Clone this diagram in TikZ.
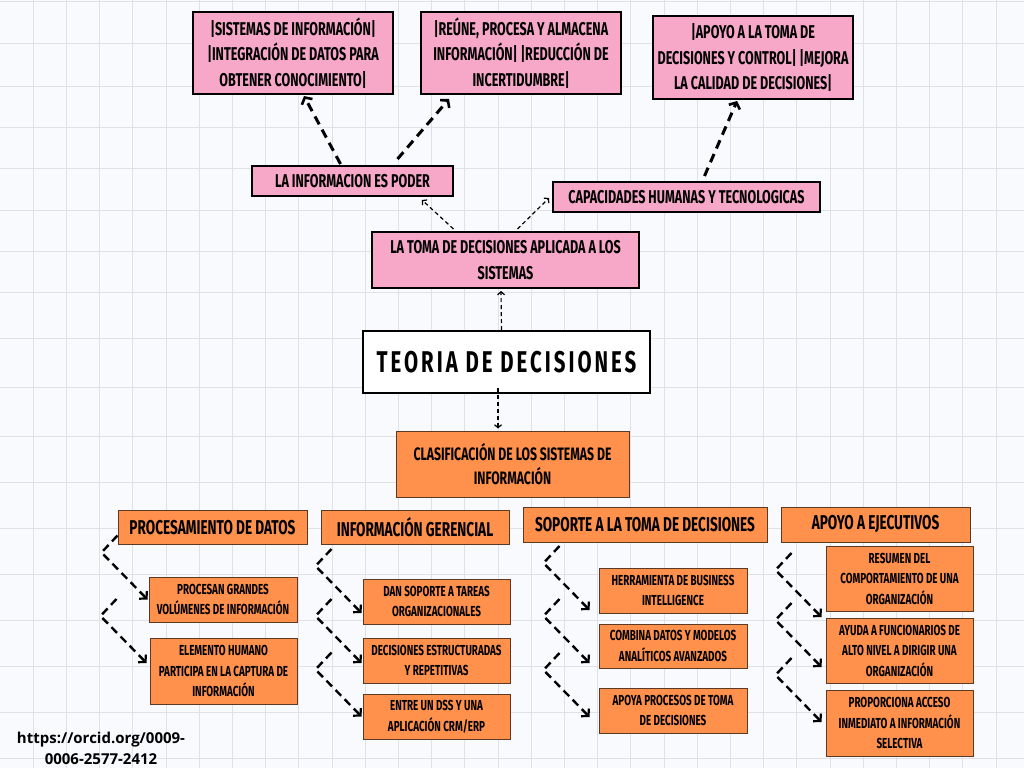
\documentclass[tikz,border=0pt]{standalone}
\usepackage{fontspec}
\setmainfont{Fira Sans}
\newfontfamily\manofont[FakeStretch=0.68]{Fira Sans}
\newfontfamily\orcidfont{Open Sans}
\usepackage{tikz}
\usetikzlibrary{arrows.meta, calc, positioning}
\definecolor{rosa}{HTML}{F7A7C7}
\definecolor{arancio}{HTML}{FF914D}
\definecolor{bordo}{HTML}{5B3A24}
\definecolor{griglia}{HTML}{E0E1E6}
\definecolor{fondo}{HTML}{F9FAFD}

\begin{document}
\begin{tikzpicture}[x=1pt, y=-1pt,
    rosabox/.style={draw=black, line width=2pt, fill=rosa, align=center, inner sep=0pt,
        font=\manofont\bfseries\fontsize{18.5}{25.5}\selectfont},
    titolo/.style={draw=black, line width=2pt, fill=white, inner sep=0pt,
        font=\manofont\bfseries\fontsize{30}{30}\selectfont\addfontfeatures{LetterSpace=10}},
    arbox/.style={draw=bordo, line width=1pt, fill=arancio, align=center, inner sep=0pt,
        font=\manofont\bfseries\fontsize{14.5}{20.5}\selectfont},
    capo/.style={arbox, font=\manofont\bfseries\fontsize{20}{20}\selectfont},
    sottile/.style={line width=1.2pt, dash pattern=on 4pt off 3pt,
        -{Straight Barb[length=3pt, width=7pt, line width=1.2pt]}},
    spessa/.style={line width=3pt, dash pattern=on 9pt off 6pt,
        -{Straight Barb[length=5pt, width=12pt, line width=2.6pt]}},
    zigzag/.style={line width=2.4pt, dash pattern=on 8pt off 5pt,
        -{Straight Barb[length=5pt, width=11pt, line width=2.2pt]}}]
    % Parametri
    \pgfmathsetmacro{\zx}{-30}
    \pgfmathsetmacro{\zy}{-64}
    % Sfondo
    \useasboundingbox (0,0) rectangle (1024,768);
    \fill[fondo] (0,0) rectangle (1024,768);
    \foreach \gx in {33.2,66.4,...,1020}
        \draw[griglia, line width=1pt] (\gx,0) -- (\gx,768);
    \foreach \gy in {2,44,86,127,168,210,251,292,338,387,436,482,528,574,620,666,712,758}
        \draw[griglia, line width=1pt] (0,\gy) -- (1024,\gy);

    % Nodi in alto
    \node[rosabox, minimum width=200pt, minimum height=82pt] (sistemi) at (293,53)
        {|SISTEMAS DE INFORMACIÓN|\\ |INTEGRACIÓN DE DATOS PARA\\ OBTENER CONOCIMIENTO|};
    \node[rosabox, minimum width=200pt, minimum height=82pt] (reune) at (521,53)
        {|REÚNE, PROCESA Y ALMACENA\\ INFORMACIÓN| |REDUCCIÓN DE\\ INCERTIDUMBRE|};
    \node[rosabox, minimum width=200pt, minimum height=83pt] (apoyo) at (753,57.5)
        {|APOYO A LA TOMA DE\\ DECISIONES Y CONTROL| |MEJORA\\ LA CALIDAD DE DECISIONES|};
    \node[rosabox, minimum width=201pt, minimum height=30pt] (poder) at (352.5,181)
        {LA INFORMACION ES PODER};
    \node[rosabox, minimum width=267pt, minimum height=30pt] (capac) at (686.5,197)
        {CAPACIDADES HUMANAS Y TECNOLOGICAS};
    \node[rosabox, minimum width=267pt, minimum height=56pt] (toma) at (505.5,260)
        {LA TOMA DE DECISIONES APLICADA A LOS\\ SISTEMAS};

    % Centro
    \node[titolo, minimum width=287pt, minimum height=62pt] (teoria) at (506.5,362)
        {TEORIA DE DECISIONES};
    \node[arbox, minimum width=233pt, minimum height=66pt,
        font=\manofont\bfseries\fontsize{18}{24}\selectfont] (clasif) at (512.5,464)
        {CLASIFICACIÓN DE LOS SISTEMAS DE\\ INFORMACIÓN};

    % Categorie
    \node[capo, minimum width=189pt, minimum height=34pt] (proc) at (212.5,527.5)
        {PROCESAMIENTO DE DATOS};
    \node[capo, minimum width=188pt, minimum height=34pt] (ger) at (415,527.5)
        {INFORMACIÓN GERENCIAL};
    \node[capo, minimum width=244pt, minimum height=35pt] (sop) at (645,524.5)
        {SOPORTE A LA TOMA DE DECISIONES};
    \node[capo, minimum width=189pt, minimum height=35pt] (ejec) at (875.5,524.5)
        {APOYO A EJECUTIVOS};

    % Elementi
    \node[arbox, minimum width=148pt, minimum height=45pt] (proc1) at (223,599.5)
        {PROCESAN GRANDES\\ VOLÚMENES DE INFORMACIÓN};
    \node[arbox, minimum width=147pt, minimum height=66pt] (proc2) at (223.5,671)
        {ELEMENTO HUMANO\\ PARTICIPA EN LA CAPTURA DE\\ INFORMACIÓN};
    \node[arbox, minimum width=147pt, minimum height=45pt] (ger1) at (436.5,601.5)
        {DAN SOPORTE A TAREAS\\ ORGANIZACIONALES};
    \node[arbox, minimum width=147pt, minimum height=45pt] (ger2) at (436.5,660.5)
        {DECISIONES ESTRUCTURADAS\\ Y REPETITIVAS};
    \node[arbox, minimum width=147pt, minimum height=45pt] (ger3) at (436.5,716.5)
        {ENTRE UN DSS Y UNA\\ APLICACIÓN CRM/ERP};
    \node[arbox, minimum width=148pt, minimum height=45pt] (sop1) at (673,590.5)
        {HERRAMIENTA DE BUSINESS\\ INTELLIGENCE};
    \node[arbox, minimum width=148pt, minimum height=44pt] (sop2) at (673,646)
        {COMBINA DATOS Y MODELOS\\ ANALÍTICOS AVANZADOS};
    \node[arbox, minimum width=148pt, minimum height=45pt] (sop3) at (673,710.5)
        {APOYA PROCESOS DE TOMA\\ DE DECISIONES};
    \node[arbox, minimum width=147pt, minimum height=65pt] (ejec1) at (899.5,578.5)
        {RESUMEN DEL\\ COMPORTAMIENTO DE UNA\\ ORGANIZACIÓN};
    \node[arbox, minimum width=147pt, minimum height=65pt] (ejec2) at (899.5,650.5)
        {AYUDA A FUNCIONARIOS DE\\ ALTO NIVEL A DIRIGIR UNA\\ ORGANIZACIÓN};
    \node[arbox, minimum width=147pt, minimum height=66pt] (ejec3) at (899.5,723)
        {PROPORCIONA ACCESO\\ INMEDIATO A INFORMACIÓN\\ SELECTIVA};

    % orcid
    \node[align=center, inner sep=0pt, font=\orcidfont\bfseries\fontsize{15}{21}\selectfont]
        (orcid) at (101,748) {https://orcid.org/0009-\\ 0006-2577-2412};

    % Frecce sottili
    \draw[sottile] ([xshift=-5pt]teoria.north) -- ([xshift=-4.5pt,yshift=-2pt]toma.south);
    \draw[sottile] ([xshift=-8.5pt,yshift=6pt]teoria.south) -- ([xshift=-14.5pt,yshift=2pt]clasif.north);
    \draw[sottile] ([xshift=-52pt,yshift=2pt]toma.north) -- ([xshift=-32pt,yshift=-3pt]poder.south east);
    \draw[sottile] ([xshift=12pt,yshift=2pt]toma.north) -- ([xshift=-3pt,yshift=-1pt]capac.west);
    % Frecce spesse
    \draw[spessa] ([xshift=-12pt,yshift=1pt]poder.north) -- ([xshift=11pt,yshift=-1pt]sistemi.south);
    \draw[spessa] ([xshift=45pt,yshift=6pt]poder.north) -- ([xshift=29pt,yshift=-4pt]reune.south west);
    \draw[spessa] ([xshift=18pt,yshift=5pt]capac.north) -- ([xshift=-16pt,yshift=-1pt]apoyo.south);
    % Frecce a zigzag
    \foreach \dest/\sx/\sy in {proc1/-1/0, proc2/-3/8, ger1/-1/-11.5, ger2/-1/-2.5, ger3/-1/0,
        sop1/-9/-19.5, sop2/-9/-17, sop3/-9/-6.5, ejec1/-4/-38.5, ejec2/-4/-16.5, ejec3/-4/1} {
        \coordinate (fine) at ([xshift=\sx pt, yshift=\sy pt]\dest.west);
        \draw[zigzag] ($(fine)+(\zx,\zy)$) -- ++(-16,17) -- (fine);
    }
\end{tikzpicture}
\end{document}
